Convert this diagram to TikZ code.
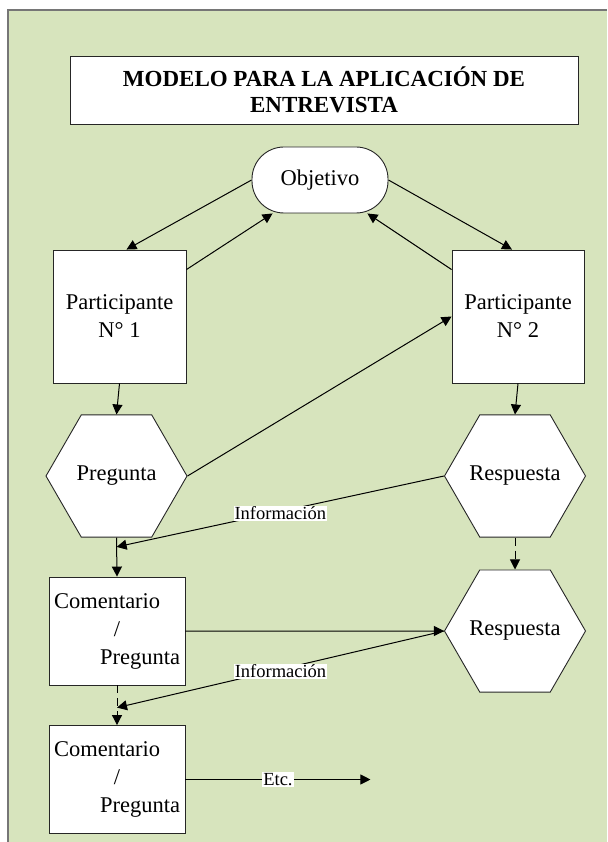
\documentclass[tikz,border=0pt]{standalone}
\usepackage{fontspec}
\setmainfont{Liberation Serif}
\usetikzlibrary{shapes.geometric,arrows.meta,calc}
\definecolor{panelgreen}{HTML}{D7E4BD}
\definecolor{panelrule}{HTML}{767676}

\begin{document}
\begin{tikzpicture}[x=1pt,y=-1pt,
  every node/.style={font=\fontsize{22.5}{28}\selectfont},
  box/.style={draw=black!85, fill=white, line width=0.9pt, inner sep=0pt},
  hexa/.style={box, regular polygon, regular polygon sides=6, minimum size=141pt},
  link/.style={line width=1pt, -{Triangle[length=10pt,width=10pt]}},
  tag/.style={fill=white, inner sep=1pt, font=\fontsize{18.5}{20}\selectfont},
]
\useasboundingbox (0,0) rectangle (607,842);
% panel
\fill[panelgreen] (8,10) rectangle (607,842);
\draw[panelrule, line width=1.5pt] (8,842) -- (8,10) -- (607,10);

% title
\node[box, minimum width=508pt, minimum height=68pt, align=center,
      font=\fontsize{23}{26}\selectfont\bfseries] (title) at (324,90)
  {MODELO PARA LA APLICACIÓN DE\\ENTREVISTA};

% participants and objective
\node[box, rounded corners=32pt, minimum width=136pt, minimum height=66pt] (obj) at (320,180) {Objetivo};
\node[box, minimum width=133pt, minimum height=133pt, align=center] (p1) at (119.5,316.5) {Participante\\N° 1};
\node[box, minimum width=132pt, minimum height=133pt, align=center] (p2) at (518,316.5) {Participante\\N° 2};

% hexagons (text kept out of the size computation)
\node[hexa] (preg) at (116.5,476) {\makebox[0pt]{Pregunta}};
\node[hexa] (resp1) at (515,476) {\makebox[0pt]{Respuesta}};
\node[hexa] (resp2) at (515,631) {\makebox[0pt]{Respuesta}};

% comment / question boxes
\tikzset{combox/.style={box, minimum width=136pt, minimum height=108pt, inner xsep=4pt,
  text width=126pt, align=left}}
\newcommand{\comtext}{Comentario\\\hspace*{\fill}/\hspace*{\fill}\null\\\hspace*{\fill}Pregunta}
\node[combox] (com1) at (117,631) {\comtext};
\node[combox] (com2) at (117,779.5) {\comtext};

% junction points on the vertical flows
\coordinate (j1) at ($(preg.south)!0.24!(com1.north)$);
\coordinate (j2) at ($(com1.south)!0.56!(com2.north)$);
\coordinate (etcend) at ($(com2.east)+(185,0)$);

% connectors
\draw[link] (obj.west) -- ($(p1.north)+(7,0)$);
\draw[link] ($(p1.north east)+(0,20)$) -- ($(obj.south west)+(21,0)$);
\draw[link] (obj.east) -- ($(p2.north)+(-6,0)$);
\draw[link] ($(p2.north west)+(0,20)$) -- ($(obj.south east)+(-21,0)$);
\draw[link] (p1.south) -- (preg.north);
\draw[link] (p2.south) -- (resp1.north);
\draw[link] (preg.east) -- (p2.west);
\draw[link] (preg.south) -- (com1.north);
\draw[link] (resp1.west) -- node[tag, pos=0.5, yshift=-2pt] {Información} (j1);
\draw[link, dash pattern=on 8pt off 5pt] (resp1.south) -- (resp2.north);
\draw[link] (com1.east) -- (resp2.west);
\draw[link] (resp2.west) -- node[tag, pos=0.5, yshift=-2pt] {Información} (j2);
\draw[link, dash pattern=on 8pt off 5pt] (com1.south) -- (com2.north);
\draw[link] (com2.east) -- node[tag, pos=0.5] {Etc.} (etcend);
\end{tikzpicture}
\end{document}
